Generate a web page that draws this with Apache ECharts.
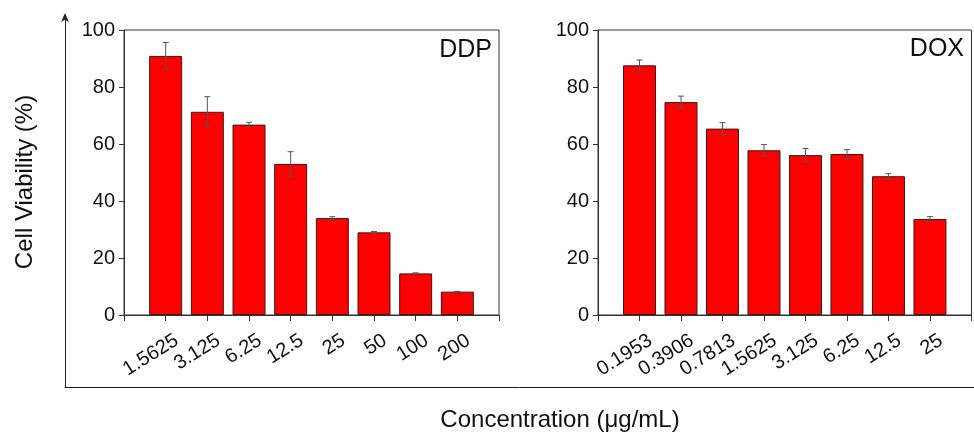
<!DOCTYPE html>
<html>
<head>
<meta charset="utf-8">
<script src="https://cdn.jsdelivr.net/npm/echarts@6/dist/echarts.min.js"></script>
<style>
  html, body { margin: 0; padding: 0; background: #fff; }
  #chart { width: 974px; height: 434px; }
</style>
</head>
<body>
<div id="chart"></div>
<script>
// Cell viability after 48 h exposure, mean ± SD
const ddpDoses = ['1.5625', '3.125', '6.25', '12.5', '25', '50', '100', '200'];
const ddpViability = [90.9, 71.3, 66.8, 53.0, 34.0, 29.0, 14.6, 8.2];
const ddpSD = [4.7, 5.3, 0.8, 4.3, 0.5, 0.3, 0.2, 0.1];

const doxDoses = ['0.1953', '0.3906', '0.7813', '1.5625', '3.125', '6.25', '12.5', '25'];
const doxViability = [87.6, 74.7, 65.4, 57.8, 56.1, 56.5, 48.7, 33.7];
const doxSD = [1.9, 2.1, 2.1, 2.0, 2.3, 1.5, 0.9, 0.8];

const yTicks = [0, 20, 40, 60, 80, 100];

const FONT = 'Liberation Sans, Arial, Helvetica, sans-serif';
const AXIS_COLOR = '#333';

// one empty slot on each side so the bars sit between the frame ticks
const padCats = cats => [''].concat(cats, ['']);
const padVals = vals => ['-'].concat(vals, ['-']);
const errRows = (vals, sd) => vals.map((v, i) => [i + 1, v - sd[i], v + sd[i]]);

function renderErr(params, api) {
  const x = api.value(0);
  const lo = api.coord([x, api.value(1)]);
  const hi = api.coord([x, api.value(2)]);
  const cap = 3;
  const style = { stroke: '#555', lineWidth: 1, fill: null };
  return {
    type: 'group',
    children: [
      { type: 'line', shape: { x1: lo[0], y1: lo[1], x2: hi[0], y2: hi[1] }, style },
      { type: 'line', shape: { x1: hi[0] - cap, y1: hi[1], x2: hi[0] + cap, y2: hi[1] }, style },
      { type: 'line', shape: { x1: lo[0] - cap, y1: lo[1], x2: lo[0] + cap, y2: lo[1] }, style }
    ]
  };
}

function xAxisFor(gridIndex, cats) {
  return {
    type: 'category', gridIndex, data: padCats(cats), boundaryGap: false,
    axisLine: { show: true, lineStyle: { color: AXIS_COLOR, width: 1 } },
    axisTick: { show: true, interval: 0, length: 6, lineStyle: { color: AXIS_COLOR } },
    axisLabel: {
      interval: 0, rotate: 32, fontSize: 20, color: '#111', fontFamily: FONT,
      margin: 6, align: 'right', verticalAlign: 'top', padding: [11, 0, 0, 0]
    },
    splitLine: { show: false }
  };
}

function yAxisFor(gridIndex) {
  return {
    type: 'value', gridIndex, min: yTicks[0], max: yTicks[yTicks.length - 1], interval: 20,
    axisLine: { show: true, lineStyle: { color: AXIS_COLOR, width: 1 } },
    axisTick: { show: true, length: 5, lineStyle: { color: AXIS_COLOR } },
    axisLabel: { fontSize: 20, color: '#111', fontFamily: FONT, margin: 9 },
    splitLine: { show: false }
  };
}

function barSeries(idx, vals) {
  return {
    type: 'bar', xAxisIndex: idx, yAxisIndex: idx, data: padVals(vals), barWidth: 33,
    itemStyle: { color: '#ff0000', borderColor: '#3a1a1a', borderWidth: 1 },
    silent: true, animation: false
  };
}

function errSeries(idx, vals, sd) {
  return {
    type: 'custom', xAxisIndex: idx, yAxisIndex: idx, data: errRows(vals, sd),
    renderItem: renderErr, z: 5, silent: true, animation: false
  };
}

const chart = echarts.init(document.getElementById('chart'), null, { renderer: 'canvas' });

chart.setOption({
  backgroundColor: '#fff',
  animation: false,
  grid: [
    { left: 124, top: 30, width: 375, height: 285, show: true, borderColor: AXIS_COLOR, borderWidth: 1, backgroundColor: 'transparent' },
    { left: 598, top: 30, width: 375, height: 285, show: true, borderColor: AXIS_COLOR, borderWidth: 1, backgroundColor: 'transparent' },
    // outer frame with the upward arrow
    { left: 65, top: 15, width: 909, height: 372, show: false }
  ],
  xAxis: [
    xAxisFor(0, ddpDoses),
    xAxisFor(1, doxDoses),
    {
      type: 'value', gridIndex: 2, min: 0, max: 1,
      axisLine: { show: true, lineStyle: { color: '#222', width: 1 } },
      axisTick: { show: false }, axisLabel: { show: false }, splitLine: { show: false }
    }
  ],
  yAxis: [
    yAxisFor(0),
    yAxisFor(1),
    {
      type: 'value', gridIndex: 2, min: 0, max: 1,
      axisLine: {
        show: true, symbol: ['none', 'arrow'], symbolSize: [6, 9], symbolOffset: [0, 2],
        lineStyle: { color: '#222', width: 1 }
      },
      axisTick: { show: false }, axisLabel: { show: false }, splitLine: { show: false }
    }
  ],
  series: [
    barSeries(0, ddpViability),
    errSeries(0, ddpViability, ddpSD),
    barSeries(1, doxViability),
    errSeries(1, doxViability, doxSD)
  ],
  graphic: [
    {
      type: 'text', x: 25, y: 182, rotation: Math.PI / 2,
      style: { text: 'Cell Viability (%)', font: '24px ' + FONT, fill: '#111', align: 'center', verticalAlign: 'middle' }
    },
    {
      type: 'text', x: 560, y: 420,
      style: { text: 'Concentration (μg/mL)', font: '24px ' + FONT, fill: '#111', align: 'center', verticalAlign: 'middle' }
    },
    {
      type: 'text', x: 492, y: 50,
      style: { text: 'DDP', font: '25px ' + FONT, fill: '#111', align: 'right', verticalAlign: 'middle' }
    },
    {
      type: 'text', x: 964, y: 49,
      style: { text: 'DOX', font: '25px ' + FONT, fill: '#111', align: 'right', verticalAlign: 'middle' }
    }
  ]
});
</script>
</body>
</html>
